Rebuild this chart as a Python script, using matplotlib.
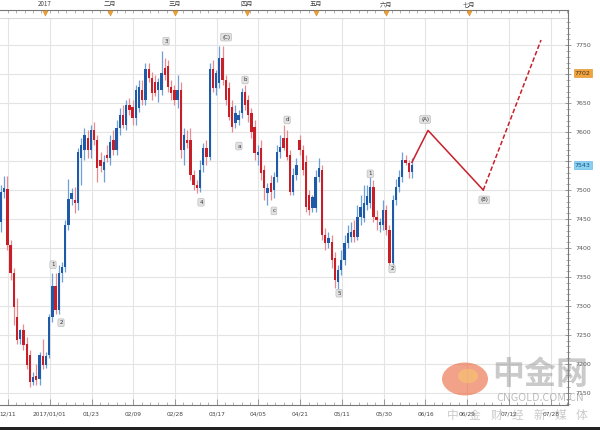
import numpy as np
import matplotlib.pyplot as plt
from matplotlib.patches import Circle, Rectangle
import matplotlib.transforms as mtransforms

CJK = ['Noto Sans CJK SC', 'DejaVu Sans']

# daily OHLC (one bar per trading day)
opens = [7445, 7497, 7502, 7405, 7357, 7281, 7243, 7259, 7234, 7216,
         7169, 7179, 7174, 7214, 7198, 7216, 7281, 7334, 7293, 7357,
         7367, 7440, 7484, 7483, 7478, 7555, 7569, 7590, 7569, 7603,
         7586, 7552, 7534, 7560, 7555, 7586, 7569, 7607, 7629, 7612,
         7647, 7643, 7624, 7641, 7672, 7655, 7709, 7693, 7686, 7672,
         7672, 7710, 7714, 7678, 7672, 7655, 7672, 7569, 7586, 7586,
         7526, 7509, 7503, 7543, 7572, 7557, 7709, 7676, 7685, 7728,
         7690, 7676, 7643, 7616, 7621, 7633, 7669, 7655, 7633, 7609,
         7560, 7572, 7534, 7495, 7512, 7500, 7522, 7566, 7590, 7590,
         7560, 7497, 7526, 7586, 7569, 7548, 7491, 7469, 7469, 7522,
         7534, 7422, 7409, 7410, 7383, 7341, 7362, 7379, 7409, 7419,
         7431, 7419, 7453, 7452, 7474, 7478, 7505, 7453, 7440, 7440,
         7466, 7431, 7374, 7483, 7505, 7522, 7552, 7547, 7531]
highs = [7509, 7524, 7524, 7414, 7366, 7314, 7260, 7269, 7246, 7224,
         7186, 7200, 7221, 7243, 7221, 7286, 7357, 7357, 7371, 7376,
         7448, 7519, 7503, 7505, 7572, 7590, 7607, 7603, 7612, 7617,
         7595, 7566, 7560, 7578, 7595, 7603, 7621, 7641, 7647, 7655,
         7659, 7655, 7681, 7690, 7690, 7719, 7719, 7703, 7698, 7693,
         7740, 7728, 7724, 7690, 7681, 7698, 7686, 7607, 7603, 7607,
         7534, 7517, 7552, 7581, 7586, 7719, 7724, 7707, 7748, 7748,
         7698, 7686, 7655, 7647, 7638, 7676, 7681, 7664, 7641, 7621,
         7578, 7586, 7543, 7512, 7526, 7531, 7578, 7595, 7612, 7603,
         7569, 7538, 7555, 7595, 7578, 7560, 7500, 7491, 7534, 7555,
         7543, 7434, 7428, 7422, 7393, 7371, 7397, 7422, 7440, 7445,
         7448, 7474, 7491, 7509, 7509, 7531, 7517, 7466, 7452, 7483,
         7474, 7440, 7491, 7519, 7534, 7565, 7560, 7552, 7555]
lows = [7428, 7486, 7397, 7345, 7267, 7234, 7234, 7224, 7191, 7160,
        7163, 7163, 7163, 7191, 7193, 7210, 7272, 7286, 7286, 7341,
        7359, 7431, 7474, 7460, 7466, 7509, 7552, 7555, 7555, 7578,
        7514, 7531, 7514, 7548, 7543, 7560, 7560, 7595, 7607, 7603,
        7629, 7612, 7612, 7634, 7647, 7647, 7686, 7655, 7662, 7652,
        7664, 7690, 7669, 7655, 7647, 7641, 7555, 7543, 7572, 7517,
        7500, 7495, 7497, 7531, 7543, 7552, 7669, 7664, 7676, 7681,
        7647, 7621, 7600, 7607, 7612, 7624, 7638, 7617, 7590, 7552,
        7543, 7517, 7483, 7474, 7483, 7486, 7514, 7555, 7569, 7552,
        7491, 7491, 7517, 7560, 7526, 7462, 7457, 7462, 7462, 7514,
        7414, 7397, 7400, 7366, 7331, 7328, 7353, 7371, 7400, 7410,
        7410, 7414, 7440, 7445, 7466, 7469, 7445, 7431, 7428, 7431,
        7422, 7371, 7371, 7474, 7497, 7514, 7543, 7521, 7521]
closes = [7497, 7503, 7405, 7357, 7298, 7241, 7259, 7233, 7198, 7169,
          7178, 7172, 7216, 7198, 7214, 7281, 7334, 7293, 7357, 7367,
          7440, 7484, 7495, 7478, 7566, 7578, 7595, 7569, 7603, 7586,
          7538, 7541, 7548, 7555, 7583, 7569, 7607, 7629, 7612, 7647,
          7638, 7624, 7672, 7678, 7655, 7709, 7693, 7667, 7667, 7686,
          7702, 7698, 7678, 7667, 7655, 7672, 7569, 7595, 7581, 7526,
          7509, 7503, 7534, 7572, 7557, 7709, 7676, 7702, 7728, 7690,
          7655, 7626, 7609, 7633, 7629, 7669, 7647, 7629, 7600, 7564,
          7566, 7529, 7503, 7503, 7497, 7522, 7566, 7574, 7572, 7557,
          7497, 7526, 7543, 7569, 7534, 7471, 7466, 7488, 7522, 7538,
          7422, 7409, 7417, 7379, 7345, 7362, 7379, 7409, 7426, 7428,
          7419, 7453, 7471, 7478, 7490, 7505, 7453, 7448, 7445, 7466,
          7431, 7374, 7483, 7505, 7522, 7552, 7547, 7531, 7543]

# projected wave path (bar index, price)
proj_bar = [128, 133, 150.2, 168.2]
proj_price = [7548, 7603, 7500, 7759]

# wave count labels
wave_text = ['1', '2', '3', '4', '(C)', 'a', 'b', 'c', 'd', '5', '1', '2', '(A)', '(B)']
wave_bar = [16.2, 18.7, 51.4, 62.3, 70.1, 74.1, 76.0, 85.0, 89.1, 105.3, 115.0, 121.8, 132.1, 150.5]
wave_price = [7371, 7271, 7757, 7479, 7764, 7576, 7690, 7464, 7621, 7322, 7528, 7364, 7622, 7483]

# axes labels
date_labels = ['12/11', '2017/01/01', '01/23', '02/09', '02/28', '03/17', '04/05',
               '04/21', '05/11', '05/30', '06/16', '06/29', '07/12', '07/28']
month_labels = ['2017', '二月', '三月', '四月', '五月', '六月', '七月']
month_bar = [13.7, 34.0, 54.2, 76.6, 98.1, 120.0, 145.8]
price_ticks = np.arange(7150, 7751, 50)
last_high, last_close = 7702, 7543
hidden_ticks = [7700, 7550]   # covered by the price tags

BLUE, BLUE_W = '#1e5aa8', '#6f9fd8'
RED, RED_W = '#c81e28', '#e88a90'

o, h, l, c = map(np.array, (opens, highs, lows, closes))
x = np.arange(len(o))

fig = plt.figure(figsize=(6, 4.3), dpi=100)
ax = fig.add_axes([0, 1 - 405 / 430, 568 / 600, 387 / 430])
x_lo, x_hi = -0.31, 176.6

# grid
grid_pos = 2.2 + 13 * np.arange(len(date_labels))
for g in grid_pos:
    ax.axvline(g, color='#e4e4e4', lw=0.8, zorder=0)
for p in price_ticks:
    ax.axhline(p, color='#e4e4e4', lw=0.8, zorder=0)

# candles
up = c >= o
dn = ~up
ax.vlines(x[up], l[up], h[up], color=BLUE_W, lw=0.9, zorder=2)
ax.vlines(x[dn], l[dn], h[dn], color=RED_W, lw=0.9, zorder=2)
ax.bar(x[up], c[up] - o[up], bottom=o[up], width=0.72, color=BLUE, lw=0, zorder=3)
ax.bar(x[dn], o[dn] - c[dn], bottom=c[dn], width=0.72, color=RED, lw=0, zorder=3)

# projected path
ax.plot(proj_bar[:3], proj_price[:3], color='#c8202a', lw=1.1, zorder=4)
ax.plot(proj_bar[2:], proj_price[2:], color='#c8202a', lw=1.1, ls=(0, (3, 1.5)), zorder=4)

for t, xb, yp in zip(wave_text, wave_bar, wave_price):
    ax.text(xb, yp, t, fontsize=4, ha='center', va='center', color='#333333', zorder=5,
            bbox=dict(boxstyle='round,pad=0.25', fc='#e2e2e2', ec='#b5b5b5', lw=0.4))

# axes styling
ax.spines['left'].set_visible(False)
ax.spines['top'].set_color('#d0d0d0')
ax.spines['top'].set_linewidth(0.6)
ax.spines['right'].set_color('#777777')
ax.spines['bottom'].set_color('#777777')
ax.spines['right'].set_linewidth(0.8)
ax.spines['bottom'].set_linewidth(0.8)

ax.yaxis.tick_right()
ax.set_yticks(price_ticks)
ax.set_yticklabels(['' if p in hidden_ticks else str(p) for p in price_ticks])
ax.set_yticks(np.arange(7130, 7800, 10), minor=True)
ax.tick_params(axis='y', which='major', direction='inout', length=5, width=0.5,
               colors='#777777', labelsize=4.5, labelcolor='#555555', pad=3)
ax.tick_params(axis='y', which='minor', direction='inout', length=2.5, width=0.4, colors='#777777')

# small ticks every ~2.6 bars, kept inside the view so the limits do not grow
minor_x = np.arange(grid_pos[0], x_hi, 2.6)
minor_x = minor_x[(minor_x >= x_lo) & (minor_x <= x_hi)]
ax.set_xticks(grid_pos)
ax.set_xticklabels(date_labels)
ax.set_xticks(minor_x, minor=True)
ax.tick_params(axis='x', which='major', direction='in', length=4, width=0.5,
               colors='#777777', labelsize=4.2, labelcolor='#444444', pad=5)
ax.tick_params(axis='x', which='minor', direction='in', length=2, width=0.4, colors='#777777')
ax.set_xlim(x_lo, x_hi)
ax.set_ylim(7129, 7797)

# highlighted price tags
tag = mtransforms.blended_transform_factory(ax.transAxes, ax.transData)
ax.text(1.012, last_high, str(last_high), transform=tag, fontsize=4.5, va='center', ha='left',
        color='#333333', bbox=dict(boxstyle='square,pad=0.2', fc='#f2a33a', ec='#d98a20', lw=0.4))
ax.text(1.012, last_close, str(last_close), transform=tag, fontsize=4.5, va='center', ha='left',
        color='#1b4f80', bbox=dict(boxstyle='square,pad=0.2', fc='#8ad0f0', ec='#5bb0dd', lw=0.4))

# top month band
top = fig.add_axes([0, 1 - 18 / 430, 568 / 600, 18 / 430])
top.patch.set_alpha(0)
for side in ['top', 'left']:
    top.spines[side].set_visible(False)
top.spines['right'].set_bounds(0, 0.444)
top.spines['right'].set_color('#777777')
top.spines['bottom'].set_position(('axes', 0.444))
top.spines['bottom'].set_color('#777777')
top.spines['bottom'].set_linewidth(0.8)
top.set_yticks([])
top.scatter(month_bar, [0.3] * len(month_bar), marker='v', s=14, color='#f0a030',
            edgecolor='#c88020', lw=0.3, zorder=3, clip_on=False)
for m, xb in zip(month_labels, month_bar):
    top.text(xb, 0.78, m, fontsize=4.5, ha='center', va='center', color='#444444', family=CJK)
top.set_xticks(minor_x)
top.tick_params(axis='x', direction='out', length=2.5, width=0.4, colors='#777777', labelbottom=False)
top.set_xlim(x_lo, x_hi)
top.set_ylim(0, 1)

# watermark
fig.patches.append(Circle((465 / 600, 1 - 379 / 430), 23 / 600, transform=fig.transFigure,
                          fc='#ec7048', alpha=0.65, ec='none'))
fig.patches.append(Circle((468 / 600, 1 - 376 / 430), 10 / 600, transform=fig.transFigure,
                          fc='#f6c070', alpha=0.7, ec='none'))
fig.text(540 / 600, 1 - 375 / 430, '中金网', fontsize=23, fontweight='bold', ha='center',
         va='center', color='#8a8a8a', alpha=0.45, family=CJK)
fig.text(540 / 600, 1 - 398 / 430, 'CNGOLD.COM.CN', fontsize=7.8, ha='center', va='center',
         color='#8a8a8a', alpha=0.55, family=CJK)
for k, ch in enumerate('中金财经新媒体'):
    fig.text((453 + 21.5 * k) / 600, 1 - 415 / 430, ch, fontsize=8.5, ha='center', va='center',
             color='#8a8a8a', alpha=0.45, family=CJK)

fig.patches.append(Rectangle((0, 0), 1, 3 / 430, transform=fig.transFigure, fc='#222222', ec='none'))

fig.savefig('out.png', dpi=100)
